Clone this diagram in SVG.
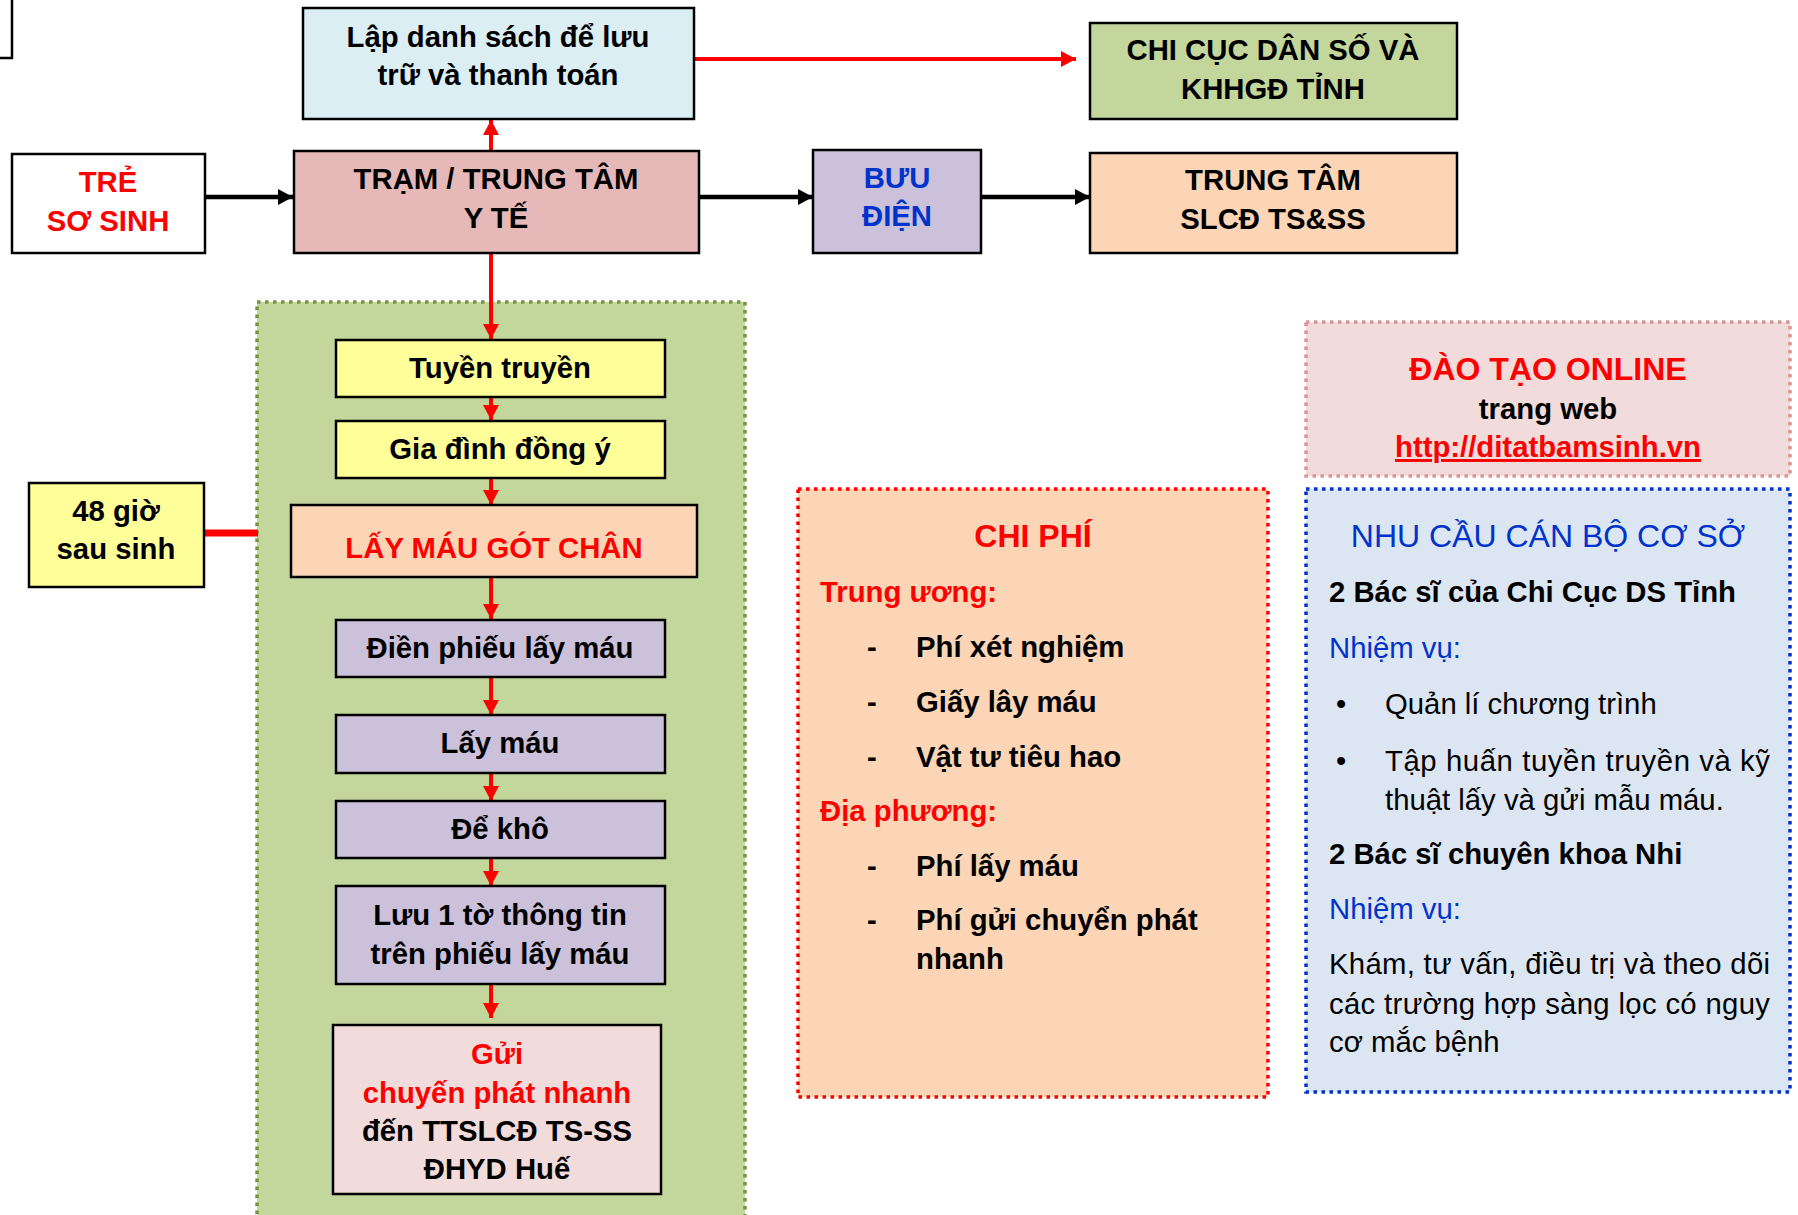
<svg xmlns="http://www.w3.org/2000/svg" width="1798" height="1215" viewBox="0 0 1798 1215">
<style>
.t{font-family:"Liberation Sans",Arial,sans-serif;font-size:29.3px;font-weight:bold;fill:#000}
.c{text-anchor:middle}
.r{fill:#ff0000}
.b{fill:#0033cc}
.n{font-weight:normal}
.h{font-size:32px}
.box{stroke:#000;stroke-width:2.5}
.dot{stroke-width:3.5;stroke-dasharray:3.5 4.5}
.ra{stroke:#ff0000;stroke-width:4;fill:none}
.ka{stroke:#000;stroke-width:4.5;fill:none}
</style>
<defs>
<marker id="mr" markerUnits="userSpaceOnUse" markerWidth="16" markerHeight="16" refX="15" refY="8" orient="auto">
<path d="M0,0 L15,8 L0,16 z" fill="#ff0000"/>
</marker>
<marker id="mk" markerUnits="userSpaceOnUse" markerWidth="16" markerHeight="16" refX="15" refY="8" orient="auto">
<path d="M0,0 L15,8 L0,16 z" fill="#000"/>
</marker>
</defs>
<rect width="1798" height="1215" fill="#fff"/>

<g id="partial">
<rect class="box" x="-20" y="-20" width="32" height="78" fill="#fff"/>
</g>

<g id="container">
<rect x="257" y="302" width="488" height="960" fill="#c3d69b" stroke="#77933c" class="dot"/>
</g>

<g id="chiphi">
<rect x="798" y="489" width="470" height="608" fill="#fbd5b5" stroke="#ff0000" class="dot"/>
<text class="t r h c" x="1033" y="547">CHI PHÍ</text>
<text class="t r" x="820" y="602">Trung ương:</text>
<text class="t" x="867" y="657">-</text>
<text class="t" x="916" y="657">Phí xét nghiệm</text>
<text class="t" x="867" y="712">-</text>
<text class="t" x="916" y="712">Giấy lây máu</text>
<text class="t" x="867" y="767">-</text>
<text class="t" x="916" y="767">Vật tư tiêu hao</text>
<text class="t r" x="820" y="821">Địa phương:</text>
<text class="t" x="867" y="876">-</text>
<text class="t" x="916" y="876">Phí lấy máu</text>
<text class="t" x="867" y="930">-</text>
<text class="t" x="916" y="930">Phí gửi chuyển phát</text>
<text class="t" x="916" y="969">nhanh</text>
</g>

<g id="daotao">
<rect x="1306" y="322" width="484" height="154" fill="#f2dcdb" stroke="#d99694" class="dot"/>
<text class="t r h c" x="1548" y="380">ĐÀO TẠO ONLINE</text>
<text class="t c" x="1548" y="419">trang web</text>
<text class="t r c" x="1548" y="457" text-decoration="underline">http://ditatbamsinh.vn</text>
</g>

<g id="nhucau">
<rect x="1306" y="489" width="484" height="603" fill="#dce6f2" stroke="#0033cc" class="dot"/>
<text class="t b n h c" x="1548" y="547">NHU CẦU CÁN BỘ CƠ SỞ</text>
<text class="t" x="1329" y="602">2 Bác sĩ của Chi Cục DS Tỉnh</text>
<text class="t b n" x="1329" y="658">Nhiệm vụ:</text>
<text class="t n" x="1336" y="714">•</text>
<text class="t n" x="1385" y="714">Quản lí chương trình</text>
<text class="t n" x="1336" y="771">•</text>
<text class="t n" x="1385" y="771" textLength="385" lengthAdjust="spacing">Tập huấn tuyền truyền và kỹ</text>
<text class="t n" x="1385" y="810">thuật lấy và gửi mẫu máu.</text>
<text class="t" x="1329" y="864">2 Bác sĩ chuyên khoa Nhi</text>
<text class="t b n" x="1329" y="919">Nhiệm vụ:</text>
<text class="t n" x="1329" y="974" textLength="441" lengthAdjust="spacing">Khám, tư vấn, điều trị và theo dõi</text>
<text class="t n" x="1329" y="1014" textLength="441" lengthAdjust="spacing">các trường hợp sàng lọc có nguy</text>
<text class="t n" x="1329" y="1052">cơ mắc bệnh</text>
</g>

<g id="connectors">
<line class="ra" x1="694" y1="59" x2="1076" y2="59" marker-end="url(#mr)"/>
<line class="ra" x1="491" y1="151" x2="491" y2="120" marker-end="url(#mr)"/>
<line class="ka" x1="205" y1="197" x2="293" y2="197" marker-end="url(#mk)"/>
<line class="ka" x1="699" y1="197" x2="813" y2="197" marker-end="url(#mk)"/>
<line class="ka" x1="981" y1="197" x2="1090" y2="197" marker-end="url(#mk)"/>
<line class="ra" x1="491" y1="253" x2="491" y2="339" marker-end="url(#mr)"/>
<line class="ra" x1="491" y1="397" x2="491" y2="420" marker-end="url(#mr)"/>
<line class="ra" x1="491" y1="478" x2="491" y2="505" marker-end="url(#mr)"/>
<line class="ra" x1="491" y1="577" x2="491" y2="619" marker-end="url(#mr)"/>
<line class="ra" x1="491" y1="677" x2="491" y2="715" marker-end="url(#mr)"/>
<line class="ra" x1="491" y1="773" x2="491" y2="801" marker-end="url(#mr)"/>
<line class="ra" x1="491" y1="858" x2="491" y2="886" marker-end="url(#mr)"/>
<line class="ra" x1="491" y1="984" x2="491" y2="1018" marker-end="url(#mr)"/>
<line x1="204" y1="533" x2="258" y2="533" stroke="#ff0000" stroke-width="7"/>
</g>

<g id="lapdanhsach">
<rect class="box" x="303" y="8" width="391" height="111" fill="#dbeef4"/>
<text class="t c" x="498" y="47">Lập danh sách để lưu</text>
<text class="t c" x="498" y="85">trữ và thanh toán</text>
</g>

<g id="chicuc">
<rect class="box" x="1090" y="23" width="367" height="96" fill="#c3d69b"/>
<text class="t c" x="1273" y="60">CHI CỤC DÂN SỐ VÀ</text>
<text class="t c" x="1273" y="99">KHHGĐ TỈNH</text>
</g>

<g id="tre">
<rect class="box" x="12" y="154" width="193" height="99" fill="#fff"/>
<text class="t r c" x="108" y="192">TRẺ</text>
<text class="t r c" x="108" y="231">SƠ SINH</text>
</g>

<g id="tram">
<rect class="box" x="294" y="151" width="405" height="102" fill="#e6b9b8"/>
<text class="t c" x="496" y="189">TRẠM / TRUNG TÂM</text>
<text class="t c" x="496" y="228">Y TẾ</text>
</g>

<g id="buudien">
<rect class="box" x="813" y="150" width="168" height="103" fill="#ccc1da"/>
<text class="t b c" x="897" y="188">BƯU</text>
<text class="t b c" x="897" y="226">ĐIỆN</text>
</g>

<g id="trungtam">
<rect class="box" x="1090" y="153" width="367" height="100" fill="#fbd5b5"/>
<text class="t c" x="1273" y="190">TRUNG TÂM</text>
<text class="t c" x="1273" y="229">SLCĐ TS&amp;SS</text>
</g>

<g id="tuyentruyen">
<rect class="box" x="336" y="340" width="329" height="57" fill="#ffff99"/>
<text class="t c" x="500" y="378">Tuyền truyền</text>
</g>

<g id="giadinh">
<rect class="box" x="336" y="421" width="329" height="57" fill="#ffff99"/>
<text class="t c" x="500" y="459">Gia đình đồng ý</text>
</g>

<g id="laymaugot">
<rect class="box" x="291" y="505" width="406" height="72" fill="#fbd5b5"/>
<text class="t r c" x="494" y="558">LẤY MÁU GÓT CHÂN</text>
</g>

<g id="gio48">
<rect class="box" x="29" y="483" width="175" height="104" fill="#ffff99"/>
<text class="t c" x="116" y="521">48 giờ</text>
<text class="t c" x="116" y="559">sau sinh</text>
</g>

<g id="dienphieu">
<rect class="box" x="336" y="620" width="329" height="57" fill="#ccc1da"/>
<text class="t c" x="500" y="658">Điền phiếu lấy máu</text>
</g>

<g id="laymau">
<rect class="box" x="336" y="715" width="329" height="58" fill="#ccc1da"/>
<text class="t c" x="500" y="753">Lấy máu</text>
</g>

<g id="dekho">
<rect class="box" x="336" y="801" width="329" height="57" fill="#ccc1da"/>
<text class="t c" x="500" y="839">Để khô</text>
</g>

<g id="luu">
<rect class="box" x="336" y="886" width="329" height="98" fill="#ccc1da"/>
<text class="t c" x="500" y="925">Lưu 1 tờ thông tin</text>
<text class="t c" x="500" y="964">trên phiếu lấy máu</text>
</g>

<g id="gui">
<rect class="box" x="333" y="1025" width="328" height="169" fill="#f2dcdb"/>
<text class="t r c" x="497" y="1064">Gửi</text>
<text class="t r c" x="497" y="1103">chuyến phát nhanh</text>
<text class="t c" x="497" y="1141">đến TTSLCĐ TS-SS</text>
<text class="t c" x="497" y="1179">ĐHYD Huế</text>
</g>
</svg>
